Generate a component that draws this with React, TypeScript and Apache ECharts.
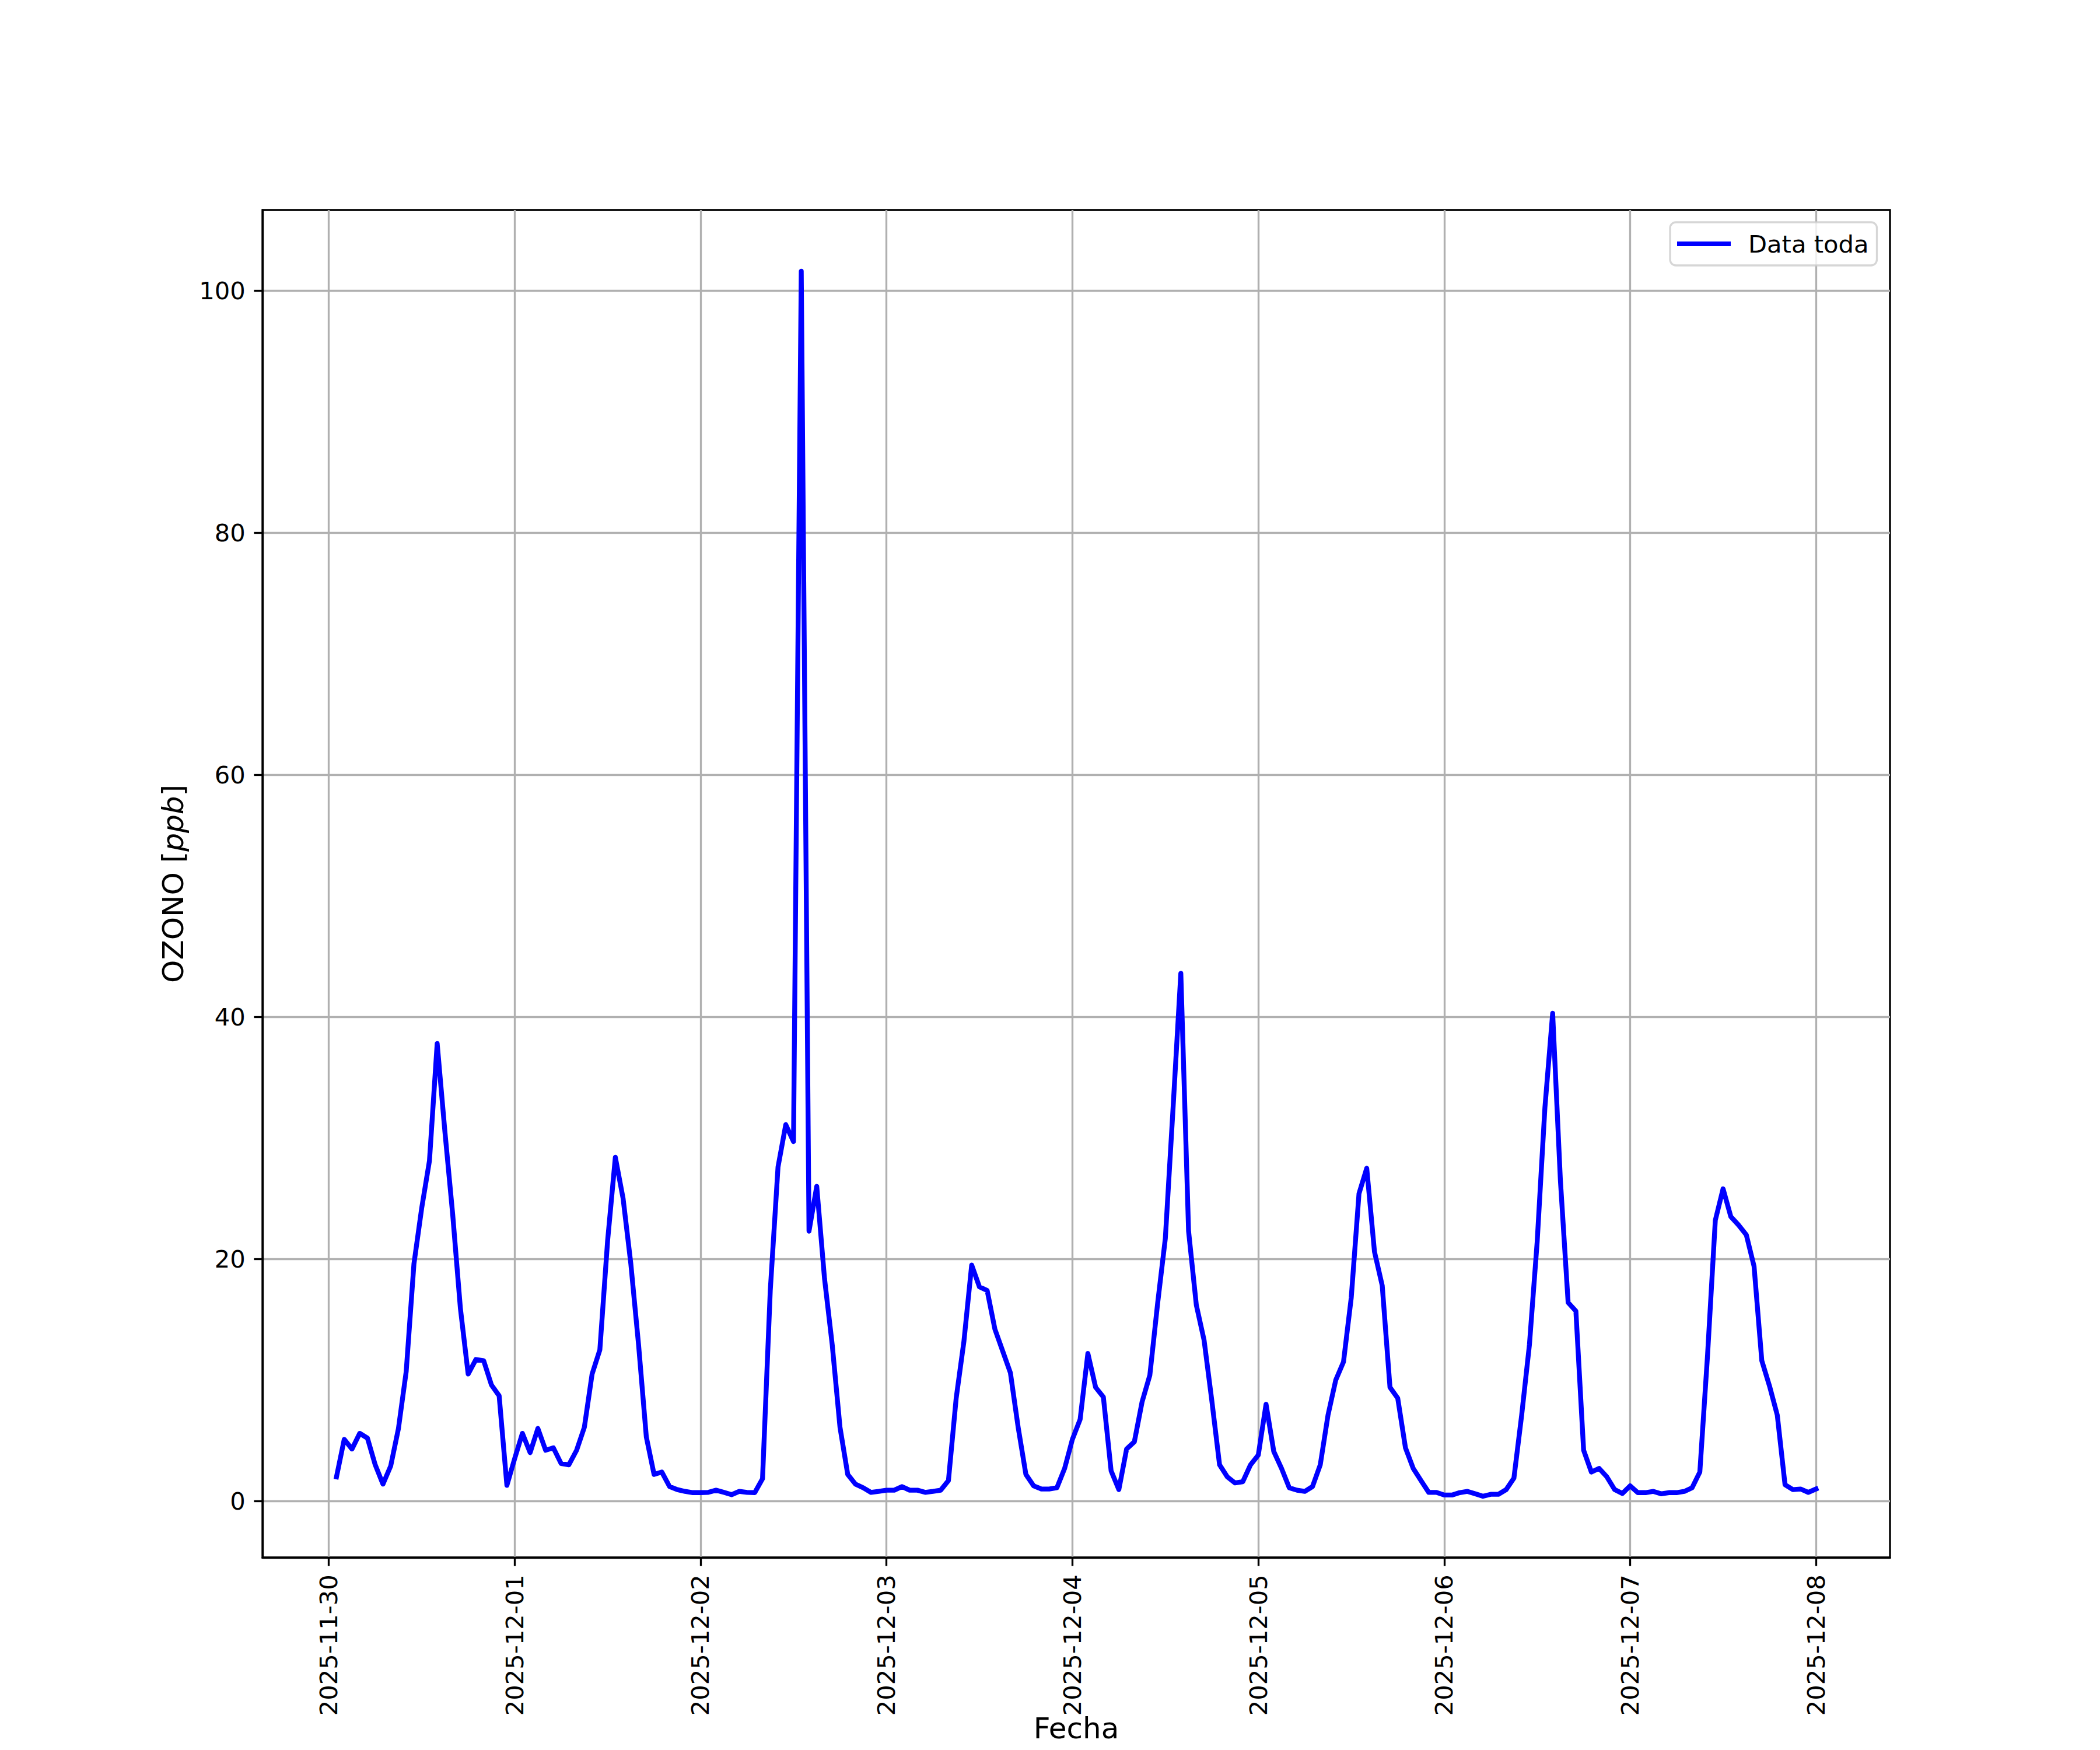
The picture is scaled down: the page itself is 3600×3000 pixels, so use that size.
import React, { useEffect, useRef } from "react";
import * as echarts from "echarts";

// Hourly ozone readings (ppb); hour 1 = 2025-11-30 01:00
const START_UTC = Date.UTC(2025, 10, 30);
const ozoneNov30 = [2.0, 5.1, 4.3, 5.6, 5.2, 3.0, 1.4, 2.9, 6.0, 10.7, 19.6, 24.2, 28.1, 37.8, 30.5, 23.7, 15.9, 10.5, 11.7, 11.6, 9.6, 8.7, 1.3, 3.5];
const ozoneDec01 = [5.6, 4.0, 6.0, 4.2, 4.4, 3.1, 3.0, 4.2, 6.1, 10.5, 12.5, 21.5, 28.4, 25.0, 19.6, 12.9, 5.3, 2.2, 2.4, 1.2, 0.95, 0.8, 0.7, 0.7];
const ozoneDec02 = [0.72, 0.9, 0.72, 0.53, 0.8, 0.72, 0.7, 1.85, 17.4, 27.6, 31.1, 29.7, 101.6, 22.3, 26.0, 18.4, 12.9, 6.1, 2.2, 1.4, 1.1, 0.72, 0.8, 0.9];
const ozoneDec03 = [0.9, 1.2, 0.9, 0.9, 0.72, 0.8, 0.9, 1.7, 8.5, 13.2, 19.5, 17.7, 17.4, 14.2, 12.4, 10.6, 6.1, 2.2, 1.26, 1.0, 1.0, 1.1, 2.7, 5.1];
const ozoneDec04 = [6.75, 12.2, 9.4, 8.6, 2.5, 0.95, 4.3, 4.9, 8.2, 10.4, 16.3, 21.7, 32.5, 43.6, 22.3, 16.2, 13.3, 8.3, 3.0, 2.0, 1.5, 1.6, 3.0, 3.8];
const ozoneDec05 = [8.0, 4.1, 2.7, 1.1, 0.9, 0.8, 1.2, 3.0, 7.1, 10.0, 11.5, 16.8, 25.4, 27.5, 20.6, 17.8, 9.4, 8.5, 4.4, 2.7, 1.7, 0.72, 0.72, 0.5];
const ozoneDec06 = [0.5, 0.7, 0.8, 0.6, 0.4, 0.56, 0.56, 0.95, 1.9, 7.1, 12.9, 21.4, 32.5, 40.3, 26.5, 16.4, 15.7, 4.2, 2.4, 2.7, 2.0, 0.95, 0.63, 1.26];
const ozoneDec07 = [0.7, 0.7, 0.8, 0.6, 0.7, 0.7, 0.8, 1.1, 2.4, 12.1, 23.2, 25.8, 23.5, 22.8, 22.0, 19.4, 11.6, 9.5, 7.1, 1.35, 0.95, 1.0, 0.72, 1.0];

const xTickHours = [0, 24, 48, 72, 96, 120, 144, 168, 192];
const yTicks = [0, 20, 40, 60, 80, 100];
const SERIES_NAME = "Data toda";

const ozone = [
  ...ozoneNov30, ...ozoneDec01, ...ozoneDec02, ...ozoneDec03,
  ...ozoneDec04, ...ozoneDec05, ...ozoneDec06, ...ozoneDec07,
];
const points = ozone.map((v, i) => [i + 1, v]);

const FONT = "DejaVu Sans";
const LW = 3.33;

function dateLabel(h: number): string {
  return new Date(START_UTC + h * 3600000).toISOString().slice(0, 10);
}

export default function App() {
  const ref = useRef<HTMLDivElement>(null);
  useEffect(() => {
    if (!ref.current) return;
    const chart = echarts.init(ref.current, null, { renderer: "svg" });
    const xMinD = 1, xMaxD = ozone.length;
    const xPad = (xMaxD - xMinD) * 0.05;
    const yMinD = Math.min(...ozone), yMaxD = Math.max(...ozone);
    const yPad = (yMaxD - yMinD) * 0.05;
    chart.setOption({
      animation: false,
      backgroundColor: "#ffffff",
      grid: {
        left: 450, top: 360, width: 2790, height: 2310,
        outerBoundsMode: "none",
        containLabel: false,
        show: true, borderColor: "#000", borderWidth: LW, backgroundColor: "transparent",
      },
      legend: {
        left: 2863, top: 381,
        padding: [13, 14, 13, 12],
        itemWidth: 92, itemHeight: 8, itemGap: 0,
        backgroundColor: "rgba(255,255,255,0.8)",
        borderColor: "rgba(204,204,204,0.8)",
        borderWidth: LW, borderRadius: 10,
        data: [{ name: SERIES_NAME, icon: "rect" }],
        textStyle: { fontSize: 41.67, fontFamily: FONT, color: "#000", lineHeight: 48, padding: [0, 0, 0, 25] },
      },
      xAxis: {
        type: "value",
        min: xMinD - xPad,
        max: xMaxD + xPad,
        name: "Fecha",
        nameLocation: "middle",
        nameGap: 268,
        nameMoveOverlap: false,
        nameTextStyle: { fontSize: 50, fontFamily: FONT, color: "#000", lineHeight: 50 },
        axisLine: { show: true, onZero: false, lineStyle: { color: "#000", width: LW } },
        axisTick: { show: true, length: 14.6, lineStyle: { color: "#000", width: LW }, customValues: xTickHours },
        axisLabel: {
          rotate: 90, margin: 29.2, fontSize: 41.67, fontFamily: FONT, color: "#000",
          customValues: xTickHours, formatter: (v: number) => dateLabel(v),
        },
        splitLine: { show: true, lineStyle: { color: "#b0b0b0", width: LW } },
      },
      yAxis: {
        type: "value",
        min: yMinD - yPad,
        max: yMaxD + yPad,
        name: "{a|OZONO [}{b|ppb}{a|]}",
        nameLocation: "middle",
        nameRotate: 90,
        nameGap: 128,
        nameTextStyle: {
          fontSize: 50, fontFamily: FONT, color: "#000",
          rich: {
            a: { fontSize: 50, fontFamily: FONT, color: "#000" },
            b: { fontSize: 50, fontFamily: FONT, fontStyle: "italic", color: "#000" },
          },
        },
        axisLine: { show: true, onZero: false, lineStyle: { color: "#000", width: LW } },
        axisTick: { show: true, length: 14.6, lineStyle: { color: "#000", width: LW }, customValues: yTicks },
        axisLabel: {
          margin: 29.2, fontSize: 41.67, fontFamily: FONT, color: "#000",
          customValues: yTicks, formatter: (v: number) => String(Math.round(v)),
        },
        splitLine: { show: true, lineStyle: { color: "#b0b0b0", width: LW } },
      },
      series: [
        {
          name: SERIES_NAME,
          type: "line",
          data: points,
          showSymbol: false,
          symbol: "none",
          lineStyle: { color: "#0000ff", width: 8.33, cap: "square", join: "round" },
          itemStyle: { color: "#0000ff" },
        },
      ],
    });
    return () => chart.dispose();
  }, []);
  return (
    <div
      ref={ref}
      style={{ position: "absolute", left: 0, top: 0, width: 3600, height: 3000 }}
    />
  );
}
